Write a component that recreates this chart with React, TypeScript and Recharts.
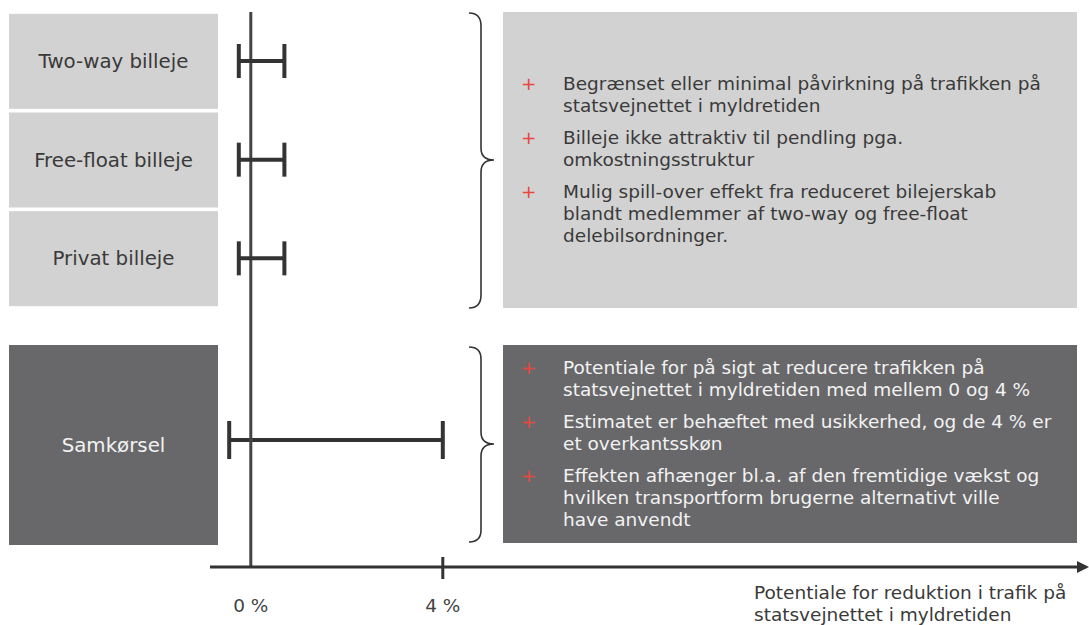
import React from "react";
import { ComposedChart, Bar, XAxis, YAxis, ReferenceLine } from "recharts";

// effect ranges (percent)
const topCategories = ["Two-way billeje", "Free-float billeje", "Privat billeje"];
const topLow = [-0.25, -0.25, -0.25];
const topHigh = [0.7, 0.7, 0.7];

const bottomCategories = ["Samkørsel"];
const bottomLow = [-0.45];
const bottomHigh = [4];

const xTicks = [0, 4];
const xTickLabels = ["0 %", "4 %"];

const topBullets = [
  ["Begrænset eller minimal påvirkning på trafikken på", "statsvejnettet i myldretiden"],
  ["Billeje ikke attraktiv til pendling pga.", "omkostningsstruktur"],
  [
    "Mulig spill-over effekt fra reduceret bilejerskab",
    "blandt medlemmer af two-way og free-float",
    "delebilsordninger.",
  ],
];
const bottomBullets = [
  ["Potentiale for på sigt at reducere trafikken på", "statsvejnettet i myldretiden med mellem 0 og 4 %"],
  ["Estimatet er behæftet med usikkerhed, og de 4 % er", "et overkantsskøn"],
  [
    "Effekten afhænger bl.a. af den fremtidige vækst og",
    "hvilken transportform brugerne alternativt ville",
    "have anvendt",
  ],
];
const axisTitle = ["Potentiale for reduktion i trafik på", "statsvejnettet i myldretiden"];

const topData = topCategories.map((name, i) => ({ name, low: topLow[i], high: topHigh[i] }));
const bottomData = bottomCategories.map((name, i) => ({ name, low: bottomLow[i], high: bottomHigh[i] }));

const FONT = "'DejaVu Sans', sans-serif";
const LIGHT = "#d2d2d2";
const DARK = "#68686a";
const INK = "#3a3a3a";
const X_DOMAIN: [number, number] = [-0.85, 17.4];

const RangeBar = (props: any) => {
  const { x, y, width, height } = props;
  const mid = y + height / 2;
  return (
    <g stroke="#333" strokeWidth={4}>
      <line x1={x} y1={mid} x2={x + width} y2={mid} />
      <line x1={x} y1={y} x2={x} y2={y + height} />
      <line x1={x + width} y1={y} x2={x + width} y2={y + height} />
    </g>
  );
};

const CategoryBox = (props: any) => {
  const { y, payload, fill, color, h, shift = 0 } = props;
  const cy = y + shift;
  return (
    <g>
      <rect x={9} y={cy - h / 2} width={209} height={h} fill={fill} />
      <text
        x={113.5}
        y={cy}
        textAnchor="middle"
        dominantBaseline="central"
        fill={color}
        fontSize={19.8}
        fontFamily={FONT}
      >
        {payload.value}
      </text>
    </g>
  );
};

const XTick = (props: any) => {
  const { x, y, payload } = props;
  return (
    <g>
      {payload.value !== 0 && (
        <line x1={x} y1={y - 10} x2={x} y2={y + 12} stroke="#333" strokeWidth={3} />
      )}
      <text x={x} y={y + 45} textAnchor="middle" fill="#444" fontSize={18.5} fontFamily={FONT}>
        {xTickLabels[xTicks.indexOf(payload.value)]}
      </text>
    </g>
  );
};

function BulletBox({ items, top, height, bg, color }: any) {
  return (
    <div
      style={{
        position: "absolute",
        left: 503,
        top,
        width: 574,
        height,
        background: bg,
        display: "flex",
        flexDirection: "column",
        justifyContent: "center",
      }}
    >
      {items.map((lines: string[], i: number) => (
        <div
          key={i}
          style={{
            position: "relative",
            paddingLeft: 60,
            marginTop: i === 0 ? 0 : 10,
            lineHeight: "22px",
            color,
            whiteSpace: "nowrap",
          }}
        >
          <span style={{ position: "absolute", left: 18, top: 0, color: "#e8463c" }}>+</span>
          {lines.map((l, j) => (
            <div key={j}>{l}</div>
          ))}
        </div>
      ))}
    </div>
  );
}

export default function App() {
  return (
    <div
      style={{
        position: "absolute",
        left: 0,
        top: 0,
        width: 1089,
        height: 625,
        background: "#fff",
        fontFamily: FONT,
        fontSize: 18.5,
        overflow: "hidden",
      }}
    >
      {/* bottom chart: vertical 0-line, x axis and Samkørsel range */}
      <div style={{ position: "absolute", left: 0, top: 0 }}>
        <ComposedChart
          layout="vertical"
          width={1089}
          height={625}
          data={bottomData}
          margin={{ top: 12, right: 3, bottom: 8, left: 0 }}
        >
          <defs>
            <marker
              id="axisArrow"
              markerWidth="4"
              markerHeight="4"
              refX="3"
              refY="2"
              orient="auto"
              markerUnits="strokeWidth"
            >
              <path d="M0,0 L4,2 L0,4 z" fill="#333" />
            </marker>
          </defs>
          <XAxis
            type="number"
            domain={X_DOMAIN}
            ticks={xTicks}
            height={50}
            tickSize={0}
            tickMargin={0}
            tickLine={false}
            axisLine={{ stroke: "#333", strokeWidth: 3, markerEnd: "url(#axisArrow)" }}
            tick={(p: any) => <XTick key={p.payload.value} {...p} />}
          />
          <YAxis
            type="category"
            dataKey="name"
            width={210}
            axisLine={false}
            tickLine={false}
            padding={{ top: 301, bottom: 0 }}
            tick={(p: any) => (
              <CategoryBox key={p.payload.value} {...p} fill={DARK} color="#f2f2f2" h={200} shift={5} />
            )}
          />
          <ReferenceLine x={0} stroke="#444" strokeWidth={3} />
          <Bar
            dataKey={(d: any) => [d.low, d.high]}
            barSize={38}
            shape={<RangeBar />}
            isAnimationActive={false}
          />
        </ComposedChart>
      </div>

      {/* top chart: car rental rows */}
      <div style={{ position: "absolute", left: 0, top: 0 }}>
        <ComposedChart
          layout="vertical"
          width={1089}
          height={320}
          data={topData}
          margin={{ top: 12, right: 3, bottom: 12, left: 0 }}
        >
          <XAxis type="number" domain={X_DOMAIN} hide />
          <YAxis
            type="category"
            dataKey="name"
            width={210}
            axisLine={false}
            tickLine={false}
            tick={(p: any) => (
              <CategoryBox key={p.payload.value} {...p} fill={LIGHT} color={INK} h={95} />
            )}
          />
          <Bar
            dataKey={(d: any) => [d.low, d.high]}
            barSize={34}
            shape={<RangeBar />}
            isAnimationActive={false}
          />
        </ComposedChart>
      </div>

      <BulletBox items={topBullets} top={12} height={296} bg={LIGHT} color={INK} />
      <BulletBox items={bottomBullets} top={345} height={198} bg={DARK} color="#f2f2f2" />

      {/* braces */}
      <svg
        width={1089}
        height={625}
        style={{ position: "absolute", left: 0, top: 0, pointerEvents: "none" }}
      >
        <g fill="none" stroke="#333" strokeWidth={1.6}>
          <path d="M469 13 Q481 13 481 26 L481 148 Q481 160 494 160 Q481 160 481 172 L481 295 Q481 308 469 308" />
          <path d="M469 347 Q481 347 481 359 L481 432 Q481 444 494 444 Q481 444 481 456 L481 530 Q481 542 469 542" />
        </g>
      </svg>

      <div
        style={{
          position: "absolute",
          left: 754,
          top: 582,
          lineHeight: "22px",
          color: INK,
          whiteSpace: "nowrap",
        }}
      >
        {axisTitle.map((l, i) => (
          <div key={i}>{l}</div>
        ))}
      </div>
    </div>
  );
}
